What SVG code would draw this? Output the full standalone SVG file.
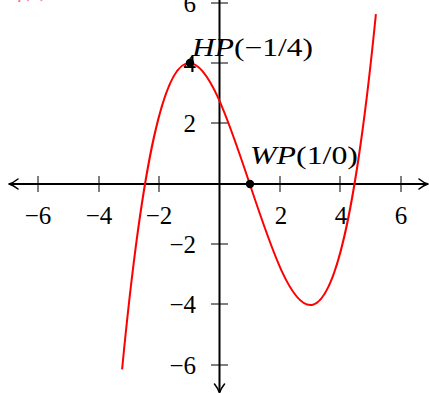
<svg xmlns="http://www.w3.org/2000/svg" width="429" height="393" viewBox="0 0 429 393">
<style>
.ax{stroke:#000;stroke-width:2;fill:none}
.tk{stroke:#000;stroke-width:1;fill:none}
.ar{stroke:#000;stroke-width:1.6;fill:none;stroke-linecap:round;stroke-linejoin:round}
text{font-family:'Liberation Serif','Times New Roman',serif;font-size:25px;fill:#000}
.xl{text-anchor:middle}
.yl{text-anchor:end}
.it{font-style:italic}
</style>
<rect width="429" height="393" fill="#fff"/>
<g id="connectors">
<line class="ax" x1="9" y1="184" x2="427" y2="184"/>
<path class="ar" d="M419,179 Q424,183 428,184 Q424,185 419,189"/>
<path class="ar" d="M18,179 Q13,183 9,184 Q13,185 18,189"/>
<line class="ax" x1="219.5" y1="0" x2="219.5" y2="392"/>
<path class="ar" d="M214.5,384 Q218.5,389 219.5,393 Q220.5,389 224.5,384"/>
<g id="xticks">
<line class="tk" x1="38" y1="176" x2="38" y2="192"/>
<line class="tk" x1="99" y1="176" x2="99" y2="192"/>
<line class="tk" x1="159" y1="176" x2="159" y2="192"/>
<line class="tk" x1="280" y1="176" x2="280" y2="192"/>
<line class="tk" x1="340" y1="176" x2="340" y2="192"/>
<line class="tk" x1="401" y1="176" x2="401" y2="192"/>
</g>
<g id="yticks">
<line class="tk" x1="211" y1="3" x2="228" y2="3"/>
<line class="tk" x1="211" y1="63" x2="228" y2="63"/>
<line class="tk" x1="211" y1="123" x2="228" y2="123"/>
<line class="tk" x1="211" y1="244" x2="228" y2="244"/>
<line class="tk" x1="211" y1="304" x2="228" y2="304"/>
<line class="tk" x1="211" y1="365" x2="228" y2="365"/>
</g>
</g>
<g id="labels">
<text class="xl" x="38" y="224">−6</text>
<text class="xl" x="99" y="224">−4</text>
<text class="xl" x="159" y="224">−2</text>
<text class="xl" x="281" y="224">2</text>
<text class="xl" x="341" y="224">4</text>
<text class="xl" x="401" y="224">6</text>
<text class="yl" x="196" y="12">6</text>
<text class="yl" x="196" y="72">4</text>
<text class="yl" x="196" y="132">2</text>
<text class="yl" x="196" y="253">−2</text>
<text class="yl" x="196" y="313">−4</text>
<text class="yl" x="196" y="374">−6</text>
</g>
<text x="18" y="-3" class="it" style="font-size:22px;fill:#ff6f8f">f(x)</text>
<g id="curve">
<path d="M122.10,369.37 C206.70,-506.73 291.29,863.60 375.89,14.06" stroke="#ff0000" stroke-width="2" fill="none"/>
</g>
<g id="hp">
<circle cx="190" cy="63" r="4.2" fill="#000"/>
<text x="192" y="56" textLength="121" lengthAdjust="spacingAndGlyphs"><tspan class="it">HP</tspan>(−1/4)</text>
</g>
<g id="wp">
<circle cx="250" cy="184" r="4.2" fill="#000"/>
<text x="250" y="164" textLength="108" lengthAdjust="spacingAndGlyphs"><tspan class="it">WP</tspan>(1/0)</text>
</g>
</svg>
